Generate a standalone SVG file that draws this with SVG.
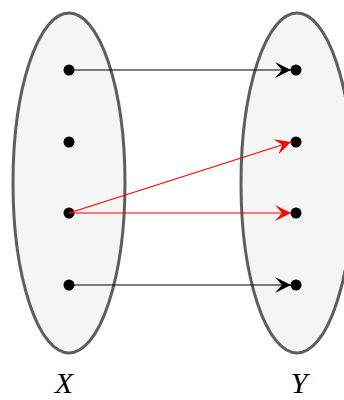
<svg xmlns="http://www.w3.org/2000/svg" width="344" height="400" viewBox="0 0 344 400">
<style>
.set{fill:#f5f5f5;stroke:#5e5e5e;stroke-width:3}
.dot{fill:#000}
.blk{stroke:#000;stroke-width:1.2;fill:none}
.red{stroke:#ff0000;stroke-width:1.2;fill:none}
.lbl{font-family:"Liberation Serif","DejaVu Serif",serif;font-style:italic;font-size:30px;fill:#000;text-anchor:middle}
</style>
<defs>
<marker id="ab" viewBox="0 0 16 16" refX="16" refY="8" markerWidth="16" markerHeight="16" markerUnits="userSpaceOnUse" orient="auto">
<path d="M0,0 L16,8 L0,16 L7,8 Z" fill="#000"/>
</marker>
<marker id="ar" viewBox="0 0 16 16" refX="16" refY="8" markerWidth="16" markerHeight="16" markerUnits="userSpaceOnUse" orient="auto">
<path d="M0,0 L16,8 L0,16 L7,8 Z" fill="#ff0000"/>
</marker>
</defs>
<g id="setX">
<ellipse class="set" cx="69" cy="183" rx="56" ry="170"/>
<circle class="dot" cx="69" cy="70" r="5.5"/>
<circle class="dot" cx="69" cy="142" r="5.5"/>
<circle class="dot" cx="69" cy="213" r="5.5"/>
<circle class="dot" cx="69" cy="285" r="5.5"/>
<text class="lbl" x="64" y="393">X</text>
</g>
<g id="setY">
<ellipse class="set" cx="297" cy="183" rx="56" ry="170"/>
<circle class="dot" cx="296" cy="70" r="5.5"/>
<circle class="dot" cx="296" cy="142" r="5.5"/>
<circle class="dot" cx="296" cy="213" r="5.5"/>
<circle class="dot" cx="296" cy="285" r="5.5"/>
<text class="lbl" x="299" y="393">Y</text>
</g>
<g id="connectors">
<line class="blk" x1="69" y1="70" x2="291" y2="70" marker-end="url(#ab)"/>
<line class="blk" x1="69" y1="285" x2="291" y2="285" marker-end="url(#ab)"/>
<line class="red" x1="69" y1="213" x2="291" y2="142" marker-end="url(#ar)"/>
<line class="red" x1="69" y1="213" x2="291" y2="213" marker-end="url(#ar)"/>
</g>
</svg>
